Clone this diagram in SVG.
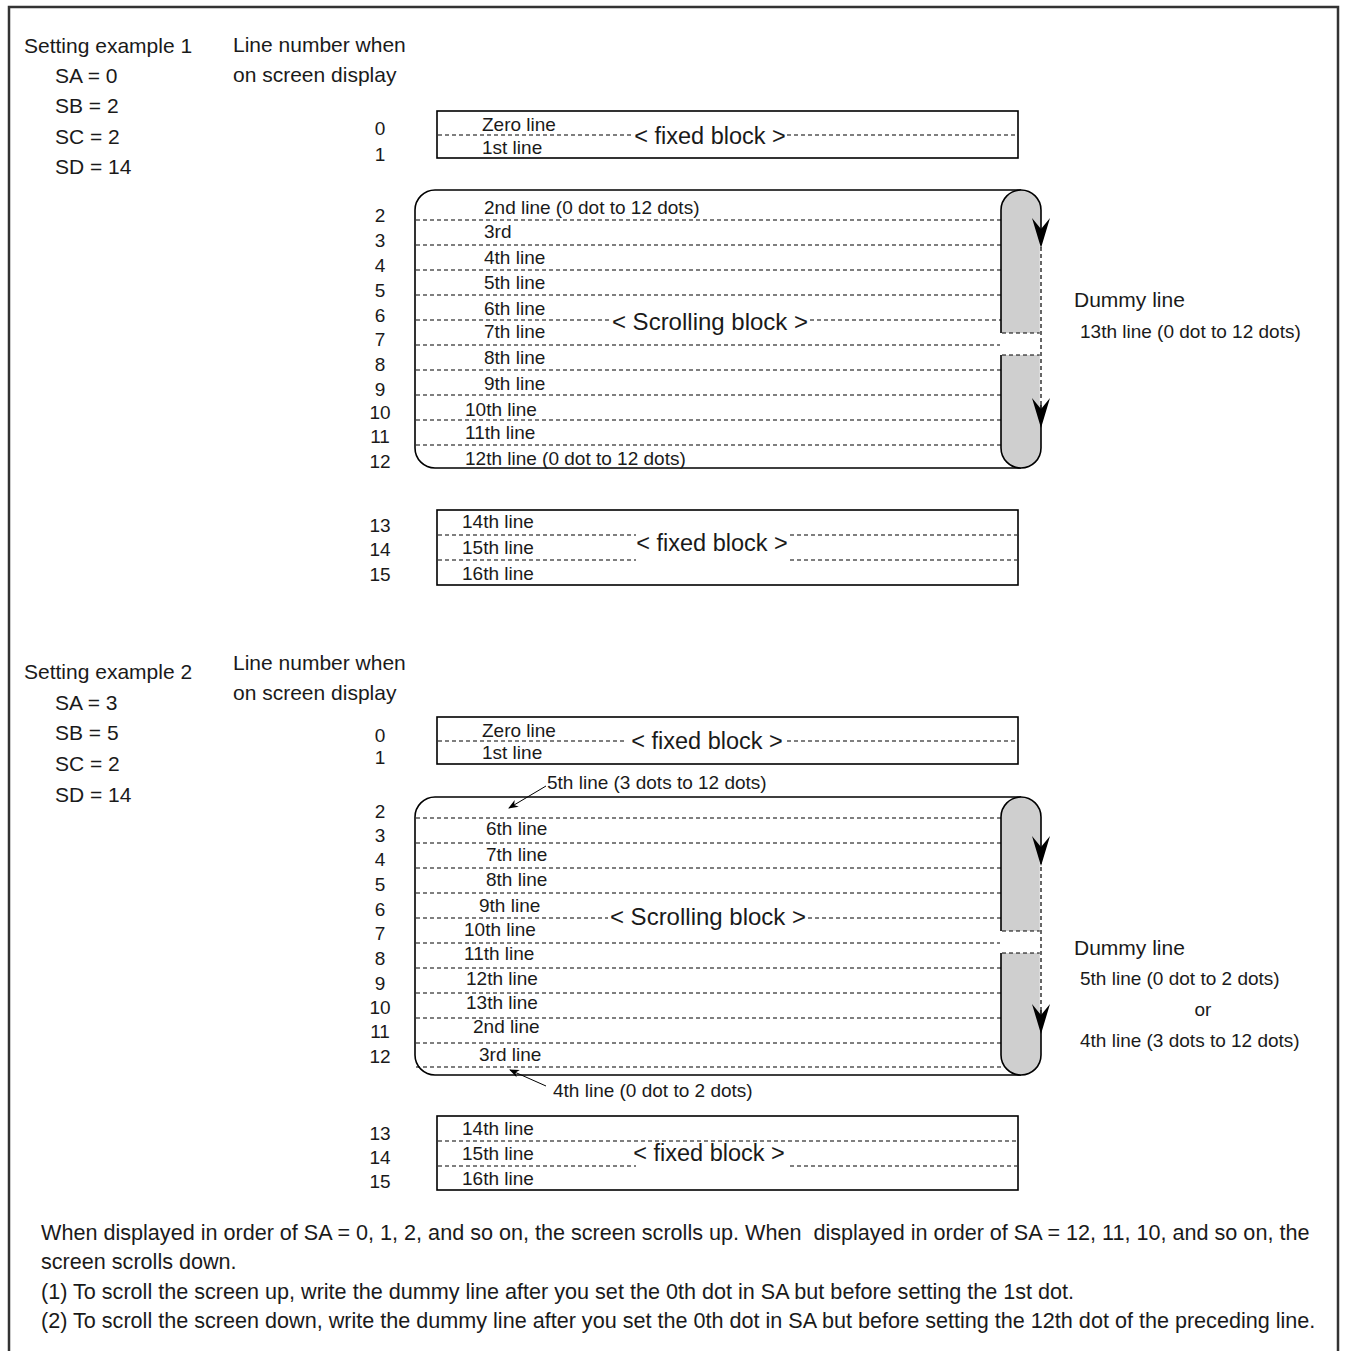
<svg xmlns="http://www.w3.org/2000/svg" width="1345" height="1351" viewBox="0 0 1345 1351">
<style>
text{font-family:"Liberation Sans",Arial,Helvetica,sans-serif;fill:#1a1a1a}
.lbl{font-size:21px}
.sm{font-size:19px}
.note{font-size:21.6px}
.num{font-size:19px;text-anchor:middle}
.ttl{font-size:23.5px;text-anchor:middle}
.ttl2{font-size:24px;text-anchor:middle}
.mid{text-anchor:middle}
.dash{stroke:#000;stroke-width:1.2;stroke-dasharray:4 3;fill:none}
.box{stroke:#000;stroke-width:1.6;fill:none}
.pill{fill:#cfcfcf;stroke:#000;stroke-width:1.6}
.ann{stroke:#000;stroke-width:1;fill:none}
</style>
<defs>
<marker id="ah" viewBox="0 0 10 10" refX="9" refY="5" markerWidth="10" markerHeight="10" markerUnits="userSpaceOnUse" orient="auto">
<path d="M0,1 L10,5 L0,9 L3,5 Z" fill="#000"/>
</marker>
<path id="bigArrow" d="M0,0 L-9,-30 L0,-19 L9,-30 Z" fill="#000"/>
</defs>
<rect x="9" y="7" width="1329" height="1360" fill="none" stroke="#333" stroke-width="2.5"/>

<g id="example1-settings">
<text class="lbl" x="24" y="53">Setting example 1</text>
<text class="lbl" x="55" y="83">SA = 0</text>
<text class="lbl" x="55" y="113">SB = 2</text>
<text class="lbl" x="55" y="144">SC = 2</text>
<text class="lbl" x="55" y="174">SD = 14</text>
<text class="lbl" x="233" y="52">Line number when</text>
<text class="lbl" x="233" y="82">on screen display</text>
</g>

<g id="example1-numbers">
<text class="num" x="380" y="135">0</text>
<text class="num" x="380" y="161">1</text>
<text class="num" x="380" y="222">2</text>
<text class="num" x="380" y="247">3</text>
<text class="num" x="380" y="272">4</text>
<text class="num" x="380" y="297">5</text>
<text class="num" x="380" y="322">6</text>
<text class="num" x="380" y="346">7</text>
<text class="num" x="380" y="371">8</text>
<text class="num" x="380" y="396">9</text>
<text class="num" x="380" y="419">10</text>
<text class="num" x="380" y="443">11</text>
<text class="num" x="380" y="468">12</text>
<text class="num" x="380" y="532">13</text>
<text class="num" x="380" y="556">14</text>
<text class="num" x="380" y="581">15</text>
</g>

<g id="ex1-fixed-top">
<rect class="box" x="437" y="111" width="581" height="47"/>
<line class="dash" x1="438" y1="135" x2="632" y2="135"/>
<line class="dash" x1="787" y1="135" x2="1017" y2="135"/>
<text class="sm" x="482" y="131">Zero line</text>
<text class="sm" x="482" y="154">1st line</text>
<text class="ttl" x="710" y="144">&lt; fixed block &gt;</text>
</g>

<g id="ex1-scroll">
<path class="box" d="M1021,190 H435 A20,20 0 0 0 415,210 V448 A20,20 0 0 0 435,468 H1021"/>
<line class="dash" x1="416" y1="220" x2="1001" y2="220"/>
<line class="dash" x1="416" y1="245" x2="1001" y2="245"/>
<line class="dash" x1="416" y1="270" x2="1001" y2="270"/>
<line class="dash" x1="416" y1="295" x2="1001" y2="295"/>
<line class="dash" x1="416" y1="320" x2="610" y2="320"/>
<line class="dash" x1="810" y1="320" x2="1001" y2="320"/>
<line class="dash" x1="416" y1="345" x2="1001" y2="345"/>
<line class="dash" x1="416" y1="370" x2="1001" y2="370"/>
<line class="dash" x1="416" y1="395" x2="1001" y2="395"/>
<line class="dash" x1="416" y1="420" x2="1001" y2="420"/>
<line class="dash" x1="416" y1="445" x2="1001" y2="445"/>
<text class="sm" x="484" y="214">2nd line (0 dot to 12 dots)</text>
<text class="sm" x="484" y="238">3rd</text>
<text class="sm" x="484" y="264">4th line</text>
<text class="sm" x="484" y="289">5th line</text>
<text class="sm" x="484" y="315">6th line</text>
<text class="sm" x="484" y="338">7th line</text>
<text class="sm" x="484" y="364">8th line</text>
<text class="sm" x="484" y="390">9th line</text>
<text class="sm" x="465" y="416">10th line</text>
<text class="sm" x="465" y="439">11th line</text>
<text class="sm" x="465" y="465">12th line (0 dot to 12 dots)</text>
<text class="ttl2" x="710" y="330">&lt; Scrolling block &gt;</text>
</g>

<g id="ex1-pill">
<rect class="pill" x="1001" y="190" width="40" height="278" rx="20" ry="20"/>
<rect x="1000" y="333" width="40" height="22" fill="#fff"/>
<line class="dash" x1="1002" y1="333" x2="1040" y2="333"/>
<line class="dash" x1="1002" y1="355" x2="1040" y2="355"/>
<line x1="1041" y1="240" x2="1041" y2="405" stroke="#fff" stroke-width="2.5"/>
<line class="dash" x1="1041" y1="240" x2="1041" y2="405"/>
<use href="#bigArrow" x="1041" y="248"/>
<use href="#bigArrow" x="1041" y="428"/>
</g>

<g id="ex1-dummy">
<text class="lbl" x="1074" y="307">Dummy line</text>
<text class="sm" x="1080" y="338">13th line (0 dot to 12 dots)</text>
</g>

<g id="ex1-fixed-bottom">
<rect class="box" x="437" y="510" width="581" height="75"/>
<line class="dash" x1="438" y1="535" x2="636" y2="535"/>
<line class="dash" x1="790" y1="535" x2="1017" y2="535"/>
<line class="dash" x1="438" y1="560" x2="636" y2="560"/>
<line class="dash" x1="790" y1="560" x2="1017" y2="560"/>
<text class="sm" x="462" y="528">14th line</text>
<text class="sm" x="462" y="554">15th line</text>
<text class="sm" x="462" y="580">16th line</text>
<text class="ttl" x="712" y="551">&lt; fixed block &gt;</text>
</g>

<g id="example2-settings">
<text class="lbl" x="24" y="679">Setting example 2</text>
<text class="lbl" x="55" y="710">SA = 3</text>
<text class="lbl" x="55" y="740">SB = 5</text>
<text class="lbl" x="55" y="771">SC = 2</text>
<text class="lbl" x="55" y="802">SD = 14</text>
<text class="lbl" x="233" y="670">Line number when</text>
<text class="lbl" x="233" y="700">on screen display</text>
</g>

<g id="example2-numbers">
<text class="num" x="380" y="742">0</text>
<text class="num" x="380" y="764">1</text>
<text class="num" x="380" y="818">2</text>
<text class="num" x="380" y="842">3</text>
<text class="num" x="380" y="866">4</text>
<text class="num" x="380" y="891">5</text>
<text class="num" x="380" y="916">6</text>
<text class="num" x="380" y="940">7</text>
<text class="num" x="380" y="965">8</text>
<text class="num" x="380" y="990">9</text>
<text class="num" x="380" y="1014">10</text>
<text class="num" x="380" y="1038">11</text>
<text class="num" x="380" y="1063">12</text>
<text class="num" x="380" y="1140">13</text>
<text class="num" x="380" y="1164">14</text>
<text class="num" x="380" y="1188">15</text>
</g>

<g id="ex2-fixed-top">
<rect class="box" x="437" y="717" width="581" height="47"/>
<line class="dash" x1="438" y1="741" x2="626" y2="741"/>
<line class="dash" x1="787" y1="741" x2="1017" y2="741"/>
<text class="sm" x="482" y="737">Zero line</text>
<text class="sm" x="482" y="759">1st line</text>
<text class="ttl" x="707" y="749">&lt; fixed block &gt;</text>
</g>

<g id="ex2-scroll">
<path class="box" d="M1021,797 H435 A20,20 0 0 0 415,817 V1055 A20,20 0 0 0 435,1075 H1021"/>
<line class="dash" x1="416" y1="818" x2="1001" y2="818"/>
<line class="dash" x1="416" y1="843" x2="1001" y2="843"/>
<line class="dash" x1="416" y1="868" x2="1001" y2="868"/>
<line class="dash" x1="416" y1="893" x2="1001" y2="893"/>
<line class="dash" x1="416" y1="918" x2="608" y2="918"/>
<line class="dash" x1="808" y1="918" x2="1001" y2="918"/>
<line class="dash" x1="416" y1="943" x2="1001" y2="943"/>
<line class="dash" x1="416" y1="968" x2="1001" y2="968"/>
<line class="dash" x1="416" y1="993" x2="1001" y2="993"/>
<line class="dash" x1="416" y1="1018" x2="1001" y2="1018"/>
<line class="dash" x1="416" y1="1043" x2="1001" y2="1043"/>
<line class="dash" x1="416" y1="1067" x2="1001" y2="1067"/>
<text class="sm" x="486" y="835">6th line</text>
<text class="sm" x="486" y="861">7th line</text>
<text class="sm" x="486" y="886">8th line</text>
<text class="sm" x="479" y="912">9th line</text>
<text class="sm" x="464" y="936">10th line</text>
<text class="sm" x="464" y="960">11th line</text>
<text class="sm" x="466" y="985">12th line</text>
<text class="sm" x="466" y="1009">13th line</text>
<text class="sm" x="473" y="1033">2nd line</text>
<text class="sm" x="479" y="1061">3rd line</text>
<text class="ttl2" x="708" y="925">&lt; Scrolling block &gt;</text>
<text class="sm" x="547" y="789">5th line (3 dots to 12 dots)</text>
<line class="ann" x1="546" y1="786" x2="509" y2="808" marker-end="url(#ah)"/>
<text class="sm" x="553" y="1097">4th line (0 dot to 2 dots)</text>
<line class="ann" x1="546" y1="1086" x2="510" y2="1070" marker-end="url(#ah)"/>
</g>

<g id="ex2-pill">
<rect class="pill" x="1001" y="797" width="40" height="278" rx="20" ry="20"/>
<rect x="1000" y="931" width="40" height="22" fill="#fff"/>
<line class="dash" x1="1002" y1="931" x2="1040" y2="931"/>
<line class="dash" x1="1002" y1="953" x2="1040" y2="953"/>
<line x1="1041" y1="860" x2="1041" y2="1010" stroke="#fff" stroke-width="2.5"/>
<line class="dash" x1="1041" y1="860" x2="1041" y2="1010"/>
<use href="#bigArrow" x="1041" y="866"/>
<use href="#bigArrow" x="1041" y="1034"/>
</g>

<g id="ex2-dummy">
<text class="lbl" x="1074" y="955">Dummy line</text>
<text class="sm" x="1080" y="985">5th line (0 dot to 2 dots)</text>
<text class="sm mid" x="1203" y="1016">or</text>
<text class="sm" x="1080" y="1047">4th line (3 dots to 12 dots)</text>
</g>

<g id="ex2-fixed-bottom">
<rect class="box" x="437" y="1116" width="581" height="74"/>
<line class="dash" x1="438" y1="1141" x2="1017" y2="1141"/>
<line class="dash" x1="438" y1="1166" x2="636" y2="1166"/>
<line class="dash" x1="790" y1="1166" x2="1017" y2="1166"/>
<text class="sm" x="462" y="1135">14th line</text>
<text class="sm" x="462" y="1160">15th line</text>
<text class="sm" x="462" y="1185">16th line</text>
<text class="ttl" x="709" y="1161">&lt; fixed block &gt;</text>
</g>

<g id="notes">
<text class="note" x="41" y="1240" xml:space="preserve">When displayed in order of SA = 0, 1, 2, and so on, the screen scrolls up. When  displayed in order of SA = 12, 11, 10, and so on, the</text>
<text class="note" x="41" y="1269">screen scrolls down.</text>
<text class="note" x="41" y="1299">(1) To scroll the screen up, write the dummy line after you set the 0th dot in SA but before setting the 1st dot.</text>
<text class="note" x="41" y="1328">(2) To scroll the screen down, write the dummy line after you set the 0th dot in SA but before setting the 12th dot of the preceding line.</text>
</g>
</svg>
